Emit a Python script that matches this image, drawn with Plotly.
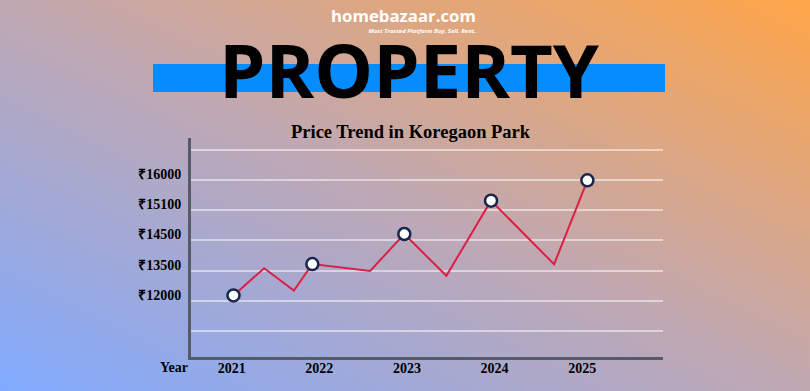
import base64
import plotly.graph_objects as go

# ---- data ----
x_pos = [2021.02, 2021.37, 2021.71, 2021.92, 2022.58, 2022.97, 2023.45, 2023.96, 2024.68, 2025.06]
prices = [12180, 13080, 12340, 13220, 12990, 14215, 12830, 15320, 13210, 15995]
marked = [True, False, False, True, False, True, False, True, False, True]
year_ticks = [2021, 2022, 2023, 2024, 2025]
year_labels = ["2021", "2022", "2023", "2024", "2025"]
grid_vals = [11000, 12000, 13000, 14000, 15000, 16000, 17000]
grid_labels = ["", "₹12000", "₹13500", "₹14500", "₹15100", "₹16000", ""]

W, H = 810, 391
L, R, T, B = 191, 147, 138, 34
PW, PH = W - L - R, H - T - B


def px(x):
    return (x - L) / PW


def py(y):
    return (H - B - y) / PH


svg = (
    '<svg xmlns="http://www.w3.org/2000/svg" width="810" height="391" viewBox="0 0 810 391" '
    'preserveAspectRatio="none"><defs><linearGradient id="g" x1="0" y1="1" x2="1" y2="0">'
    '<stop offset="0" stop-color="rgb(128,170,255)"/>'
    '<stop offset="0.5" stop-color="rgb(192,168,178)"/>'
    '<stop offset="1" stop-color="rgb(255,165,72)"/>'
    '</linearGradient></defs><rect width="810" height="391" fill="url(#g)"/></svg>'
)
bg_uri = "data:image/svg+xml;base64," + base64.b64encode(svg.encode()).decode()

fig = go.Figure()
fig.add_trace(go.Scatter(
    x=x_pos, y=prices, mode="lines",
    line=dict(color="rgb(222,30,70)", width=2),
    hoverinfo="skip", showlegend=False,
))
fig.add_trace(go.Scatter(
    x=[x for x, m in zip(x_pos, marked) if m],
    y=[y for y, m in zip(prices, marked) if m],
    mode="markers",
    marker=dict(size=12, color="white", line=dict(color="#17264d", width=2.5)),
    hoverinfo="skip", showlegend=False,
))

serif = "Liberation Serif"
fig.update_layout(
    width=W, height=H, autosize=False,
    margin=dict(l=L, r=R, t=T, b=B, pad=0),
    paper_bgcolor="rgba(0,0,0,0)", plot_bgcolor="rgba(0,0,0,0)",
    xaxis=dict(
        range=[2020.535, 2025.923], tickvals=year_ticks, ticktext=year_labels,
        showgrid=False, zeroline=False, showline=True, linecolor="#565b68", linewidth=3,
        tickfont=dict(family=serif, size=14, color="black", weight="bold"),
        ticks="", ticklabelstandoff=-4,
    ),
    yaxis=dict(
        range=[10138, 17397], tickvals=grid_vals, ticktext=grid_labels,
        showgrid=True, gridcolor="rgba(255,255,255,0.5)", gridwidth=1.5,
        zeroline=False, showline=True, linecolor="#565b68", linewidth=3,
        tickfont=dict(family=serif, size=14, color="black", weight="bold"),
        ticks="", ticklabelshift=-6, ticklabelstandoff=4,
    ),
    images=[dict(
        source=bg_uri, xref="paper", yref="paper",
        x=px(0), y=py(0), sizex=W / PW, sizey=H / PH,
        xanchor="left", yanchor="top", sizing="stretch", layer="below",
    )],
    shapes=[dict(
        type="rect", xref="paper", yref="paper",
        x0=px(153), x1=px(665), y0=py(92), y1=py(64),
        fillcolor="rgb(5,140,255)", line=dict(width=0), layer="above",
    )],
    annotations=[
        dict(text="<b>PROPERTY</b>", x=px(409), y=py(69), xref="paper", yref="paper",
             showarrow=False, xanchor="center", yanchor="middle",
             font=dict(family="Open Sans", size=74, color="black")),
        dict(text="<span style='font-size:16.8px'><b>homebazaar.com</b></span><br>"
                  "<span style='font-size:6px'><b><i>Most Trusted Platform Buy. Sell. Rent.</i></b></span>",
             x=px(478), y=py(37), xref="paper", yref="paper", align="right",
             showarrow=False, xanchor="right", yanchor="bottom",
             font=dict(family="Open Sans", size=8.5, color="white")),
        dict(text="<b>Price Trend in Koregaon Park</b>", x=px(411), y=py(132),
             xref="paper", yref="paper", showarrow=False, xanchor="center", yanchor="middle",
             font=dict(family=serif, size=18.5, color="black")),
        dict(text="<b>Year</b>", x=px(174), y=py(367.5), xref="paper", yref="paper",
             showarrow=False, xanchor="center", yanchor="middle",
             font=dict(family=serif, size=14, color="black")),
    ],
)

fig.write_html("out.html")
